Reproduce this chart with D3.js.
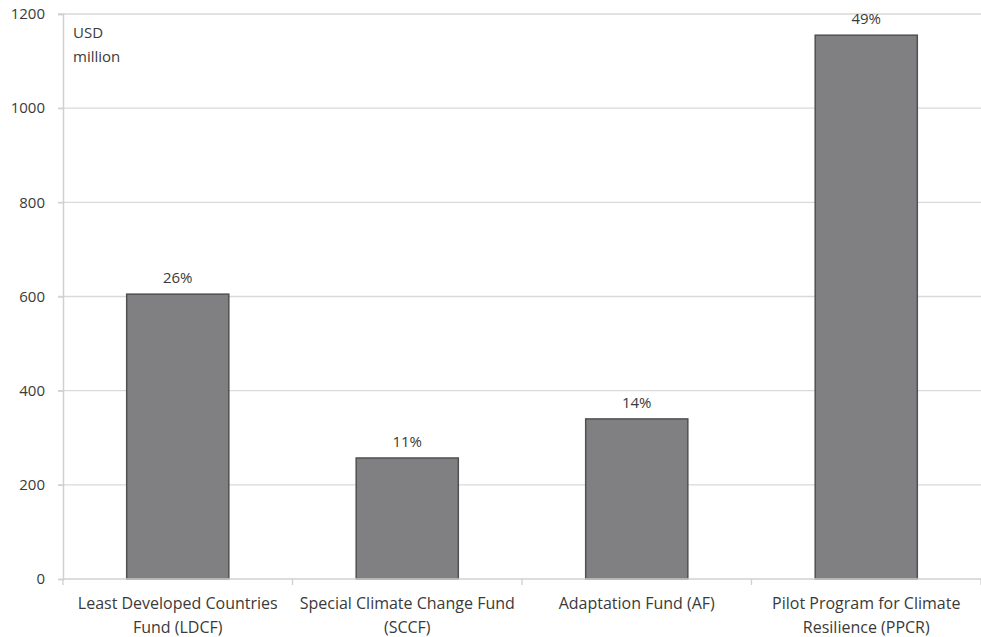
<!DOCTYPE html>
<html>
<head>
<meta charset="utf-8">
<script src="https://cdn.jsdelivr.net/npm/d3@7"></script>
<style>
  body { margin: 0; background: #fff; }
  svg { display: block; font-family: "Open Sans", "DejaVu Sans", sans-serif; }
</style>
</head>
<body>
<svg id="chart" width="981" height="637"></svg>
<script>
// chart data
const categories = [
  ["Least Developed Countries", "Fund (LDCF)"],
  ["Special Climate Change Fund", "(SCCF)"],
  ["Adaptation Fund (AF)"],
  ["Pilot Program for Climate", "Resilience (PPCR)"]
];
const amounts = [605, 257, 340, 1155];
const shares = ["26%", "11%", "14%", "49%"];
const yTicks = [0, 200, 400, 600, 800, 1000, 1200];

const svg = d3.select("#chart");
const textCol = "#3a3a3a";

// plot box
const plotL = 63, plotR = 981, plotT = 14, plotB = 579;

const x = d3.scaleBand()
    .domain(d3.range(categories.length))
    .range([plotL, plotR])
    .paddingInner(0.555)
    .paddingOuter(0.2775);

const y = d3.scaleLinear().domain([0, 1200]).range([plotB, plotT]);

// gridlines
svg.append("g")
    .selectAll("line")
    .data(yTicks.filter(d => d > 0))
    .join("line")
    .attr("x1", plotL - 5).attr("x2", plotR)
    .attr("y1", d => y(d)).attr("y2", d => y(d))
    .attr("stroke", "#d9d9d9").attr("stroke-width", 1.3);

// y axis
const yAxis = svg.append("g")
    .attr("transform", "translate(" + plotL + ",0)")
    .call(d3.axisLeft(y).tickValues(yTicks).tickFormat(d3.format("d")).tickSize(5).tickPadding(13));
yAxis.select(".domain").attr("stroke", "#d0d0d0").attr("stroke-width", 1.5);
yAxis.selectAll(".tick line").attr("stroke", "#d0d0d0").attr("stroke-width", 1.3);
yAxis.selectAll(".tick text")
    .attr("fill", textCol).attr("font-size", 15)
    .attr("font-family", "'Open Sans', sans-serif");

// bars
svg.append("g")
    .selectAll("rect")
    .data(amounts)
    .join("rect")
    .attr("x", (d, i) => x(i))
    .attr("y", d => y(d))
    .attr("width", x.bandwidth())
    .attr("height", d => y(0) - y(d))
    .attr("fill", "#808083")
    .attr("stroke", "#505052")
    .attr("stroke-width", 1.5);

// x axis baseline and band ticks
const step = x.step();
svg.append("line")
    .attr("x1", plotL).attr("x2", plotR)
    .attr("y1", y(0)).attr("y2", y(0))
    .attr("stroke", "#d0d0d0").attr("stroke-width", 1.5);
svg.append("g")
    .selectAll("line")
    .data(d3.range(categories.length + 1))
    .join("line")
    .attr("x1", i => plotL + i * step).attr("x2", i => plotL + i * step)
    .attr("y1", y(0)).attr("y2", y(0) + 6)
    .attr("stroke", "#d0d0d0").attr("stroke-width", 1.3);

// category labels
const catText = svg.append("g")
    .selectAll("text")
    .data(categories)
    .join("text")
    .attr("text-anchor", "middle")
    .attr("fill", textCol)
    .attr("font-size", 16)
    .attr("textLength", null);
catText.each(function (lines, i) {
    const cx = plotL + (i + 0.5) * step;
    d3.select(this).selectAll("tspan")
        .data(lines)
        .join("tspan")
        .attr("x", cx)
        .attr("y", (d, j) => 609 + j * 24)
        .text(d => d);
});

// share labels above bars
svg.append("g")
    .selectAll("text")
    .data(amounts)
    .join("text")
    .attr("x", (d, i) => x(i) + x.bandwidth() / 2)
    .attr("y", d => y(d) - 11)
    .attr("text-anchor", "middle")
    .attr("fill", textCol)
    .attr("font-size", 15)
    .text((d, i) => shares[i]);

// unit label
makeText(svg, 73, 38, "USD");
makeText(svg, 73, 62, "million");

function makeText(s, tx, ty, str) {
    s.append("text")
        .attr("x", tx).attr("y", ty)
        .attr("fill", textCol)
        .attr("font-size", 15)
        .text(str);
}
</script>
</body>
</html>
